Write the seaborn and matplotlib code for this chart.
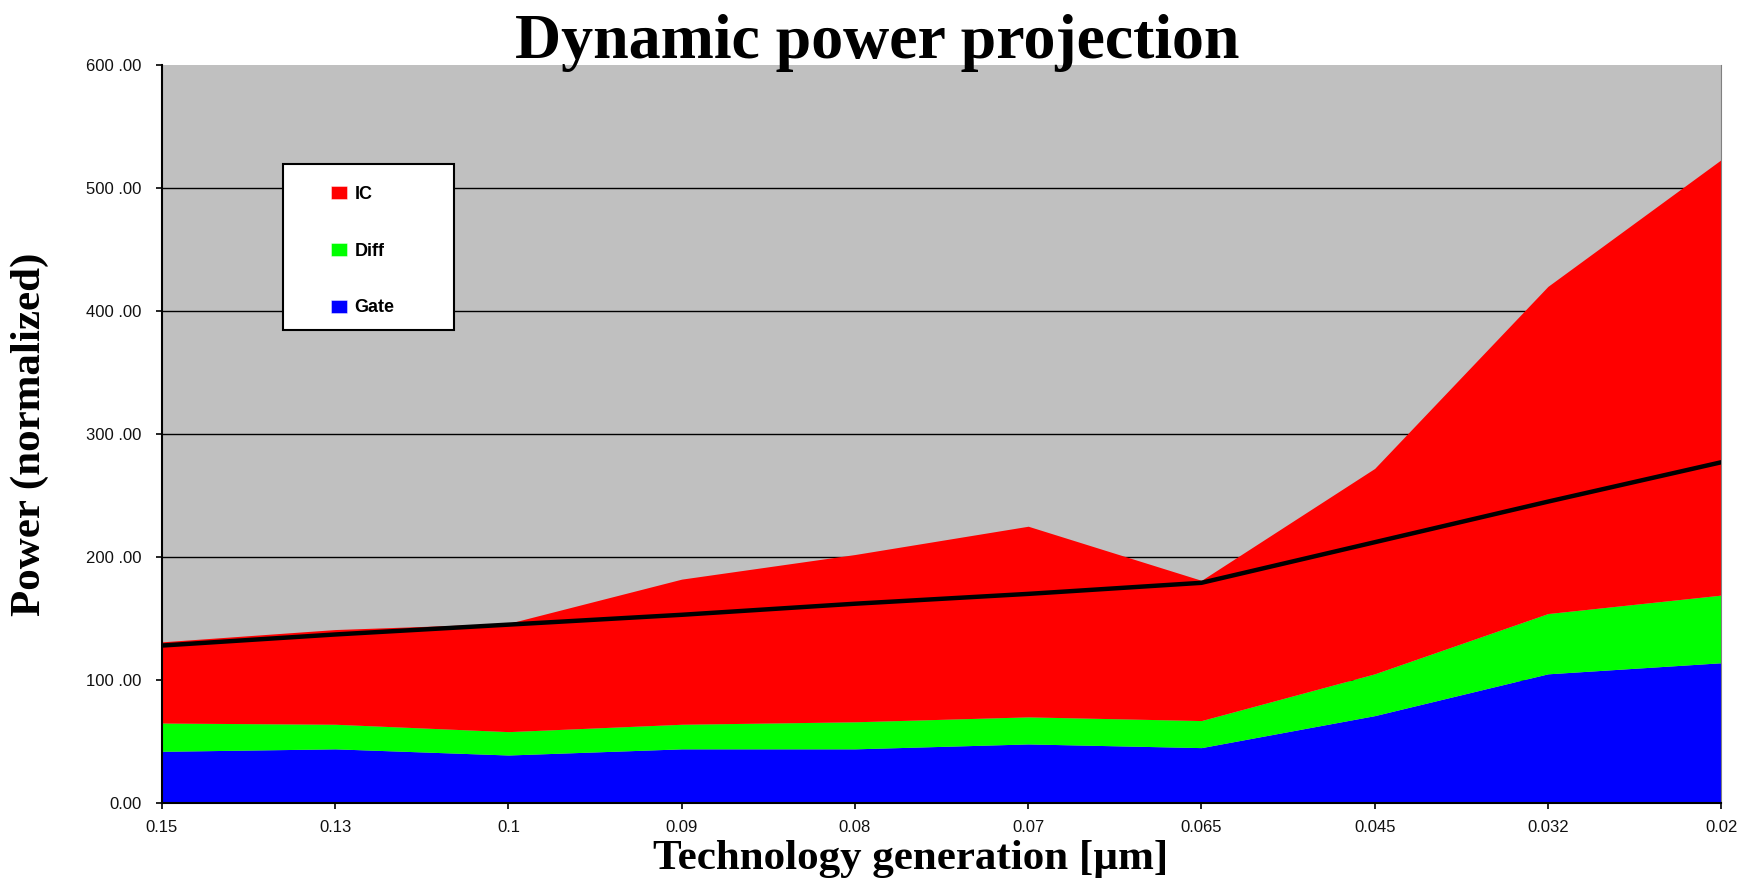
import matplotlib
matplotlib.use("Agg")
import matplotlib.pyplot as plt
import numpy as np
import pandas as pd
import seaborn as sns
from matplotlib.patches import Patch, Rectangle

# Technology nodes (µm) and per-component dynamic power (normalized, stacked)
generations = ["0.15", "0.13", "0.1", "0.09", "0.08", "0.07", "0.065", "0.045", "0.032", "0.02"]
gate = [42, 44, 39, 44, 44, 48, 45, 71, 105, 114]
diff = [23, 20, 19, 20, 22, 22, 22, 34, 49, 55]
ic = [66, 77, 88, 118, 136, 155, 114, 167, 266, 354]
trend = [128, 137, 145, 153, 162, 170, 179, 212, 245, 277]

y_ticks = [0, 100, 200, 300, 400, 500, 600]
y_tick_labels = ["0.00", "100 .00", "200 .00", "300 .00", "400 .00", "500 .00", "600 .00"]

series_names = ["Gate", "Diff", "IC"]
series_colors = {"Gate": "#0000FF", "Diff": "#00FF00", "IC": "#FF0000"}

sns.set_theme(style="ticks")
plt.rcParams["font.family"] = ["Liberation Sans", "DejaVu Sans"]
plt.rcParams["text.color"] = "black"
plt.rcParams["axes.labelcolor"] = "black"

fig = plt.figure(figsize=(17.38, 8.82), dpi=100)
fig.patch.set_facecolor("white")
ax = fig.add_axes([0.0932, 0.0896, 0.8971, 0.8367])
ax.set_facecolor("#C0C0C0")

pos = np.arange(len(generations))
df = pd.DataFrame({"pos": pos, "Gate": gate, "Diff": diff, "IC": ic, "Total": trend})

# stacked areas
ax.stackplot(df["pos"], df["Gate"], df["Diff"], df["IC"],
             colors=[series_colors[s] for s in series_names],
             linewidth=0, zorder=2)

# projection line
sns.lineplot(data=df, x="pos", y="Total", color="black", linewidth=3.2,
             ax=ax, zorder=3, legend=False)

ax.set_xlim(0, len(generations) - 1)
ax.set_ylim(0, 600)
ax.set_xticks(pos)
ax.set_xticklabels(generations)
ax.set_yticks(y_ticks)
ax.set_yticklabels(y_tick_labels)

ax.tick_params(axis="both", direction="out", length=4.5, width=1.2, color="black",
               labelsize=12, labelcolor="#111111")
ax.tick_params(axis="x", pad=8)
ax.tick_params(axis="y", pad=10)

# horizontal grid lines behind the areas, not on the frame
ax.yaxis.grid(True, color="black", linewidth=1.0, zorder=1)
ax.xaxis.grid(False)
ax.set_axisbelow(True)
glines = ax.yaxis.get_gridlines()
glines[0].set_visible(False)
glines[-1].set_visible(False)

for side in ["left", "bottom"]:
    ax.spines[side].set_color("black")
    ax.spines[side].set_linewidth(1.5)
ax.spines["top"].set_visible(False)
ax.spines["right"].set_color("#808080")
ax.spines["right"].set_linewidth(0.8)

ax.set_xlabel("Technology generation [µm]", family=["Liberation Serif"],
              fontweight="bold", fontsize=31)
ax.xaxis.label.set_va("center")
ax.xaxis.set_label_coords(0.480, -0.076)
ax.set_ylabel("Power (normalized)", family=["Liberation Serif"],
              fontweight="bold", fontsize=31)
ax.yaxis.label.set_va("center")
ax.yaxis.set_label_coords(-0.0847, 0.5)

fig.text(0.505, 0.934, "Dynamic power projection", family=["Liberation Serif"],
         fontweight="bold", fontsize=46, ha="center", va="baseline", color="black")

# legend box
frame = Rectangle((0.0776, 0.641), 0.110, 0.225, transform=ax.transAxes,
                  facecolor="white", edgecolor="black", linewidth=1.5, zorder=5)
ax.add_patch(frame)
handles = [Patch(facecolor=series_colors[s], edgecolor="#ffffff80", linewidth=0.6, label=s)
           for s in ["IC", "Diff", "Gate"]]
leg = ax.legend(handles=handles, loc="upper left", bbox_to_anchor=(0.1085, 0.836),
                frameon=False, prop={"family": "Liberation Sans", "weight": "bold", "size": 13},
                handlelength=0.9, handleheight=0.72, handletextpad=0.4,
                labelspacing=2.2, borderpad=0, borderaxespad=0)
leg.set_zorder(6)

fig.savefig("out.png", dpi=100, facecolor="white")
